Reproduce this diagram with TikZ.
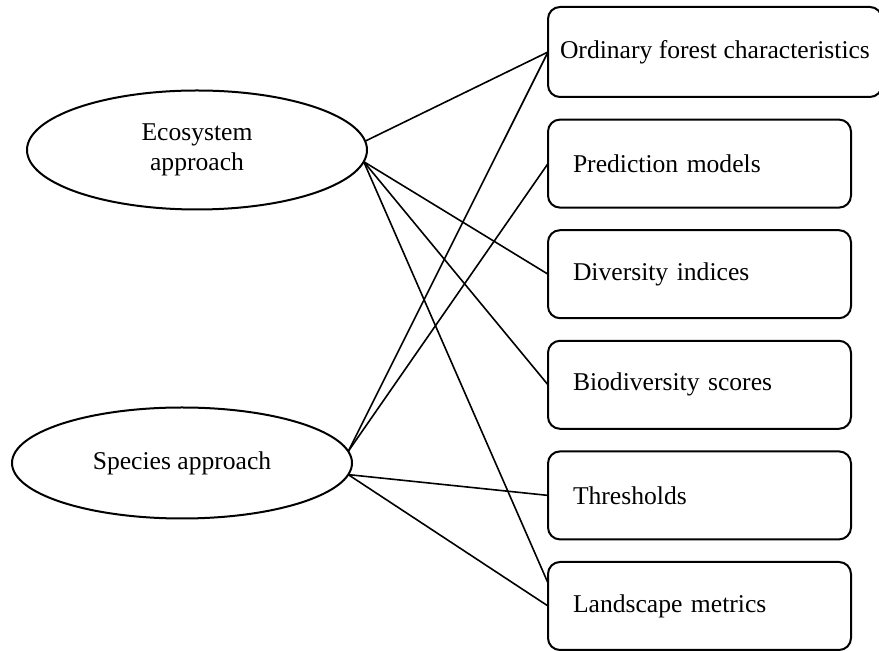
\documentclass[tikz,border=0pt]{standalone}
\usepackage{fontspec}
\setmainfont{Liberation Serif}
\usetikzlibrary{positioning, shapes.geometric}

\begin{document}
\begin{tikzpicture}[x=0.5pt, y=-0.5pt,
                    font=\fontsize{12.8}{15}\selectfont,
                    approach/.style={ellipse, draw, line width=1pt, minimum width=170pt, minimum height=59.5pt, inner sep=0pt, outer sep=0pt, align=center},
                    measure/.style={rectangle, draw, line width=1pt, rounded corners=6pt, minimum height=44pt, text width=126.5pt, inner xsep=12.5pt, inner ysep=0pt, outer sep=0pt, align=left},
                    link/.style={line width=0.8pt},
                    node distance=11.3pt]
  \useasboundingbox (0,0) rectangle (879,651);

  % Approaches
  \node[approach] (eco) at (197,150) {Ecosystem\\approach};
  \node[approach, minimum height=55.5pt] (spec) at (182,463) {Species approach};

  % Measures
  \node[measure, text width={}, inner xsep=6pt, minimum width=164pt, minimum height=45pt, anchor=west] (ord) at (548,52) {Ordinary forest characteristics};
  \node[measure, below=of ord.south west, anchor=north west] (pred) {Prediction models};
  \node[measure] (div) [below=of pred] {Diversity indices};
  \node[measure] (bio) [below=of div] {Biodiversity scores};
  \node[measure] (thr) [below=of bio] {Thresholds};
  \node[measure] (land) [below=of thr] {Landscape metrics};

  % Links
  \draw[link] (eco.3) -- (ord.west);
  \draw[link] (eco.-4) -- (div.west);
  \draw[link] (eco.-4) -- (bio.west);
  \draw[link] (eco.-4) -- ([yshift=11.5pt]land.west);
  \draw[link] (spec.4) -- (ord.west);
  \draw[link] (spec.4) -- (pred.west);
  \draw[link] (spec.-4) -- (thr.west);
  \draw[link] (spec.-4) -- (land.west);

\end{tikzpicture}
\end{document}
